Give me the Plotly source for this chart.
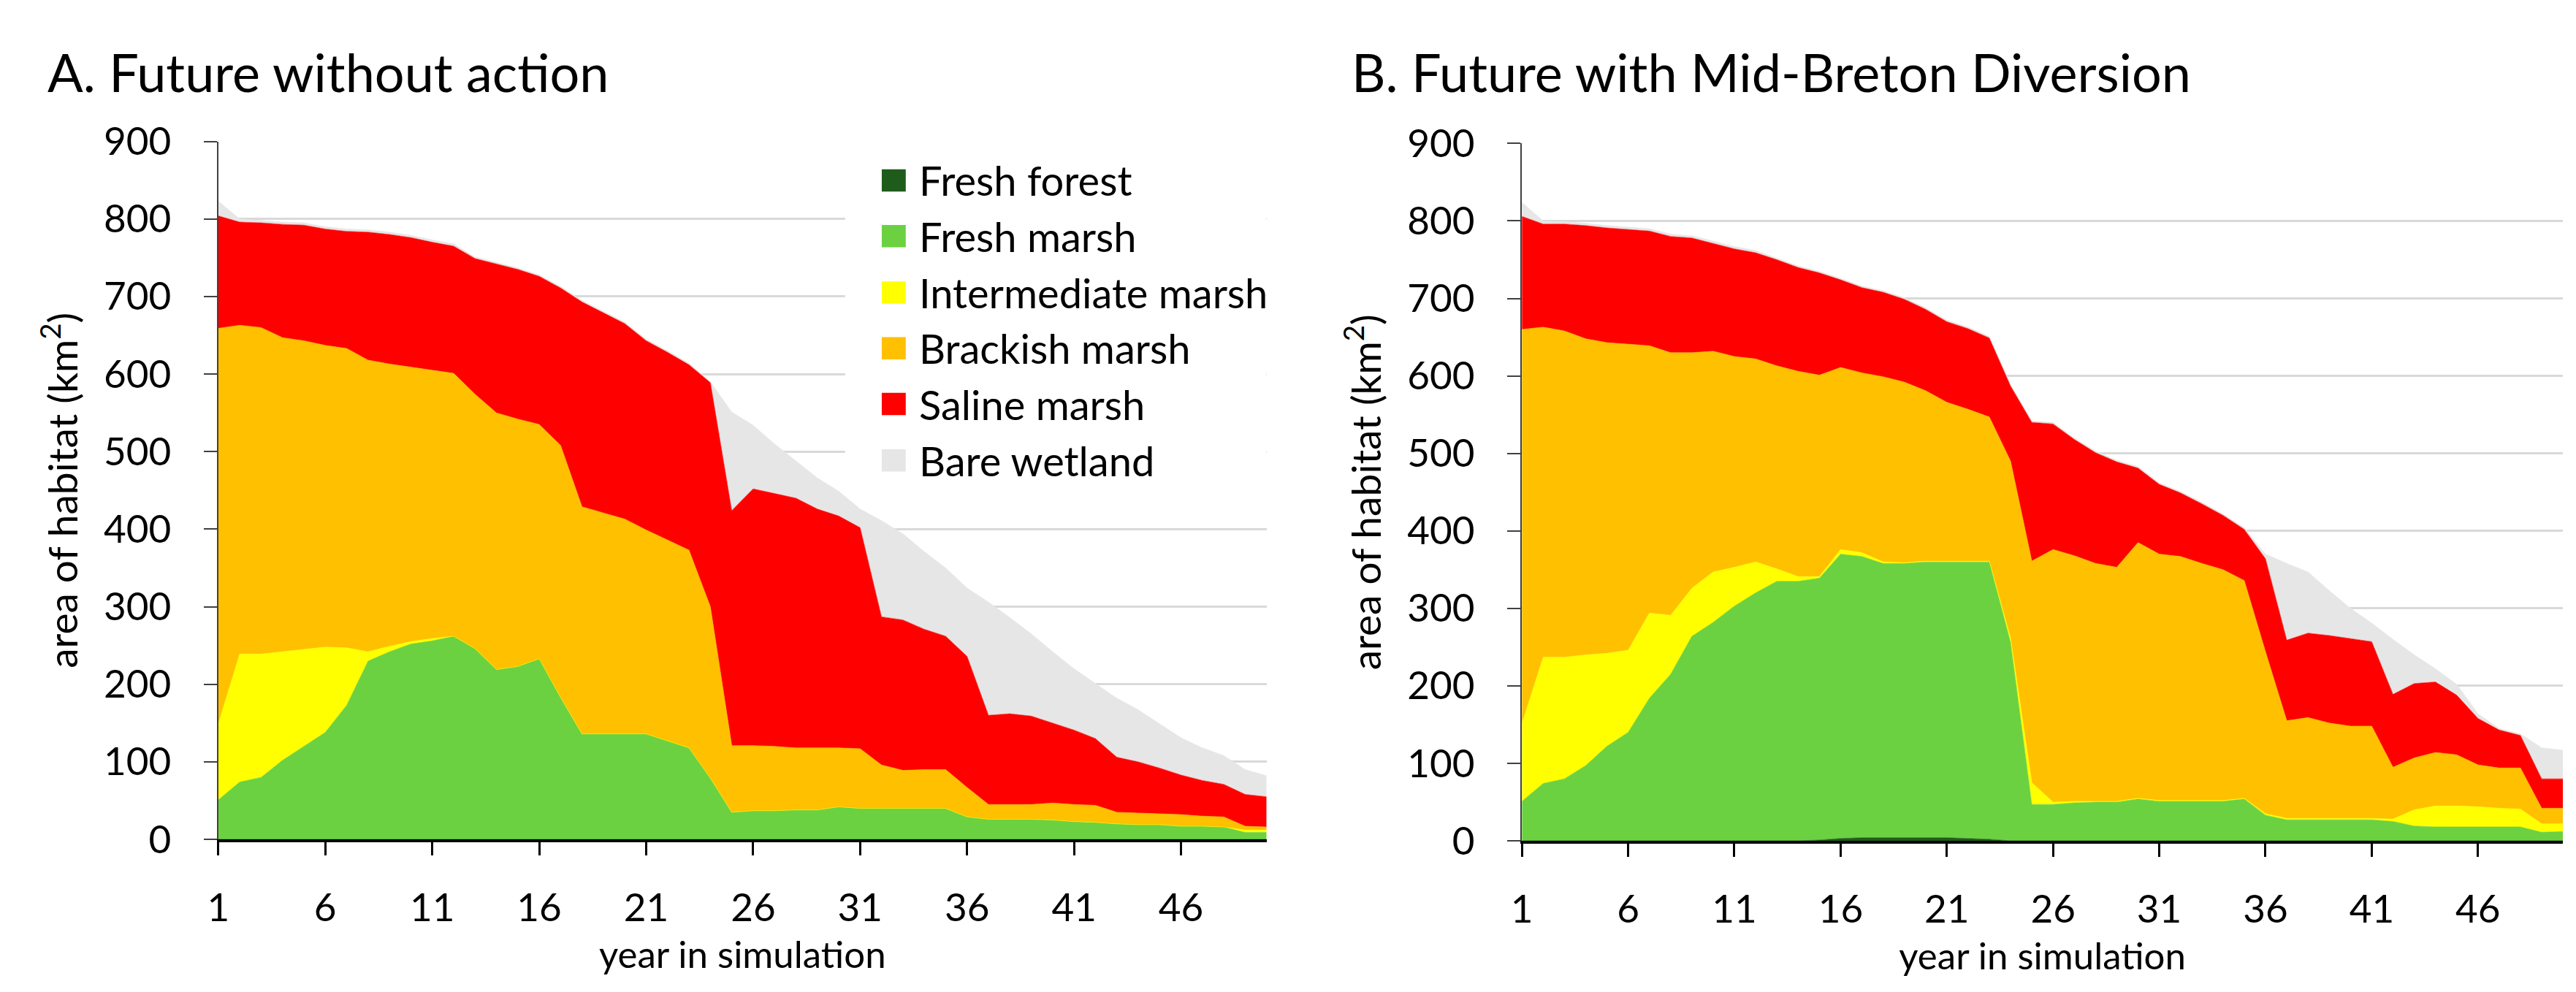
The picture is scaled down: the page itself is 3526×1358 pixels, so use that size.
import plotly.graph_objects as go

W, H = 3526, 1358

years = list(range(1, 51))
x_tick_vals = [1, 6, 11, 16, 21, 26, 31, 36, 41, 46]
y_tick_vals = [0, 100, 200, 300, 400, 500, 600, 700, 800, 900]

habitat_names = ["Fresh forest", "Fresh marsh", "Intermediate marsh",
                 "Brackish marsh", "Saline marsh", "Bare wetland"]
habitat_colors = ["#1F5C1C", "#6CD141", "#FFFF00", "#FFC000", "#FF0000", "#E6E6E6"]

# ---------------- Panel A: Future without action (km2 per habitat, years 1..50)
a_fresh_forest = [0] * 50
a_fresh_marsh = [51, 74, 80, 102, 120, 138, 173, 230, 242, 252,
                 256, 262, 246, 219, 223, 233, 183, 136, 136, 136,
                 136, 127, 118, 79, 35, 37, 37, 38, 38, 42,
                 40, 40, 40, 40, 40, 29, 26, 26, 26, 25,
                 23, 22, 20, 19, 19, 17, 17, 16, 9, 9]
a_intermediate = [98, 165, 159, 140, 125, 110, 74, 12, 7, 3,
                  3, 0, 0, 0, 0, 0, 0, 0, 0, 0,
                  0, 0, 0, 0, 0, 0, 0, 0, 0, 0,
                  0, 0, 0, 0, 0, 0, 0, 0, 0, 0,
                  0, 0, 0, 0, 0, 0, 0, 0, 3, 3]
a_brackish = [510, 424, 421, 405, 398, 389, 386, 376, 364, 354,
              346, 339, 328, 331, 319, 302, 325, 293, 285, 277,
              263, 259, 255, 221, 86, 84, 83, 80, 80, 76,
              77, 56, 49, 50, 50, 38, 19, 19, 19, 22,
              22, 22, 15, 15, 14, 15, 13, 13, 5, 4]
a_saline = [145, 133, 135, 146, 149, 150, 151, 165, 167, 167,
            165, 164, 175, 192, 193, 191, 203, 264, 258, 252,
            244, 242, 239, 289, 303, 331, 326, 322, 308, 299,
            285, 191, 194, 181, 172, 169, 115, 117, 114, 103,
            96, 86, 71, 66, 59, 51, 46, 42, 41, 39]
a_bare = [19, 4, 3, 3, 3, 3, 3, 3, 3, 3,
          3, 3, 2, 2, 2, 2, 2, 2, 2, 2,
          2, 2, 2, 1, 127, 82, 64, 48, 40, 32,
          24, 124, 111, 100, 88, 88, 146, 124, 106, 92,
          79, 71, 76, 67, 57, 48, 42, 37, 32, 27]

# ---------------- Panel B: Future with Mid-Breton Diversion
b_fresh_forest = [0, 0, 0, 0, 0, 0, 0, 0, 0, 0,
                  0, 0, 0, 0, 1, 3, 4, 4, 4, 4,
                  4, 3, 2, 0, 0, 0, 0, 0, 0, 0,
                  0, 0, 0, 0, 0, 0, 0, 0, 0, 0,
                  0, 0, 0, 0, 0, 0, 0, 0, 0, 0]
b_fresh_marsh = [51, 74, 80, 97, 122, 140, 184, 215, 264, 282,
                 303, 320, 335, 335, 338, 367, 363, 354, 354, 356,
                 356, 357, 358, 256, 47, 47, 49, 50, 50, 54,
                 51, 51, 51, 51, 54, 33, 27, 27, 27, 27,
                 27, 25, 19, 18, 18, 18, 18, 18, 11, 12]
b_intermediate = [100, 163, 157, 143, 120, 106, 110, 76, 62, 65,
                  50, 40, 16, 6, 2, 6, 5, 2, 1, 1,
                  1, 1, 1, 6, 28, 3, 2, 1, 1, 1,
                  1, 1, 1, 1, 1, 2, 2, 2, 2, 2,
                  2, 3, 21, 27, 27, 26, 24, 23, 11, 10]
b_brackish = [509, 426, 421, 408, 401, 395, 345, 339, 304, 285,
              272, 262, 262, 265, 260, 235, 232, 239, 233, 220,
              205, 196, 186, 228, 286, 326, 317, 307, 302, 330,
              318, 315, 306, 298, 281, 209, 126, 130, 123, 119,
              119, 67, 67, 69, 66, 54, 52, 53, 20, 20]
b_saline = [146, 133, 138, 146, 148, 148, 148, 150, 148, 139,
            139, 137, 137, 134, 132, 113, 110, 109, 107, 105,
            104, 104, 102, 97, 179, 162, 150, 143, 136, 96,
            90, 82, 77, 70, 66, 120, 104, 109, 113, 113,
            109, 94, 96, 91, 77, 60, 49, 42, 38, 38]
b_bare = [18, 4, 3, 3, 3, 3, 3, 3, 3, 3,
          3, 3, 2, 2, 2, 2, 2, 2, 2, 2,
          2, 2, 2, 2, 2, 2, 2, 2, 2, 2,
          2, 2, 2, 2, 2, 6, 99, 79, 58, 39,
          24, 71, 37, 17, 14, 6, 2, 2, 40, 37]

panel_a = [a_fresh_forest, a_fresh_marsh, a_intermediate, a_brackish, a_saline, a_bare]
panel_b = [b_fresh_forest, b_fresh_marsh, b_intermediate, b_brackish, b_saline, b_bare]

panel_titles = ["A. Future without action", "B. Future with Mid-Breton Diversion"]
x_title = "year in simulation"
y_title = "area of habitat (km<sup>2</sup>)"

FONT = "Lato"


def px(v):
    return v / W


def py(v):
    return 1 - v / H


fig = go.Figure()

for panel, (xa, ya, grp) in zip([panel_a, panel_b], [("x", "y", "A"), ("x2", "y2", "B")]):
    for name, color, vals in zip(habitat_names, habitat_colors, panel):
        fig.add_trace(go.Scatter(
            x=years, y=vals, name=name, xaxis=xa, yaxis=ya,
            stackgroup=grp, mode="lines",
            line=dict(width=0.6, color=color),
            fillcolor=color, showlegend=False,
            hovertemplate=name + ": %{y}<extra></extra>",
        ))

common_x = dict(
    range=[1, 50], tickvals=x_tick_vals, ticks="outside", ticklen=18,
    tickwidth=3, tickcolor="#000000", showline=True, linecolor="#000000",
    linewidth=4, showgrid=False, zeroline=False,
    tickfont=dict(family=FONT, size=53, color="#000000"),
    ticklabelstandoff=26,
    title=dict(text=x_title, font=dict(family=FONT, size=51, color="#000000"), standoff=20),
)
common_y = dict(
    range=[0, 900], tickvals=y_tick_vals, ticks="outside", ticklen=18,
    tickwidth=2, tickcolor="#404040", showline=True, linecolor="#404040",
    linewidth=2, showgrid=True, gridcolor="#D9D9D9", gridwidth=2.5,
    zeroline=False,
    tickfont=dict(family=FONT, size=53, color="#000000"),
    ticklabelstandoff=34,
    title=dict(text=y_title, font=dict(family=FONT, size=55, color="#000000"), standoff=18),
)

fig.update_layout(
    width=W, height=H,
    margin=dict(l=0, r=0, t=0, b=0),
    paper_bgcolor="#FFFFFF", plot_bgcolor="#FFFFFF",
    font=dict(family=FONT, color="#000000"),
    xaxis=dict(domain=[px(277), px(1718)], anchor="y", **common_x),
    yaxis=dict(domain=[py(1162), py(160)], anchor="x", **common_y),
    xaxis2=dict(domain=[px(2069), px(3500)], anchor="y2", **common_x),
    yaxis2=dict(domain=[py(1164), py(163)], anchor="x2", **common_y),
    showlegend=False,
)

annotations = []
for title, x0 in zip(panel_titles, [40, 1833]):
    annotations.append(dict(
        text=title, x=px(x0), y=py(60), xref="paper", yref="paper",
        xanchor="left", yanchor="middle", showarrow=False,
        font=dict(family=FONT, size=72, color="#000000"),
    ))

# Legend (drawn inside panel A on a white backdrop that hides the gridlines)
shapes = [dict(type="rect", xref="x", yref="y", x0=30.3, x1=50, y0=460, y1=885,
               fillcolor="#FFFFFF", line=dict(width=0), layer="between")]
row_centers = [216, 296, 377, 457, 537, 618]
for name, color, cy in zip(habitat_names, habitat_colors, row_centers):
    shapes.append(dict(type="rect", xref="paper", yref="paper",
                       x0=px(1189), x1=px(1222), y0=py(cy + 16), y1=py(cy - 16),
                       fillcolor=color, line=dict(width=0), layer="above"))
    annotations.append(dict(
        text=name, x=px(1238), y=py(cy), xref="paper", yref="paper",
        xanchor="left", yanchor="middle", showarrow=False,
        font=dict(family=FONT, size=56, color="#000000"),
    ))

fig.update_layout(annotations=annotations, shapes=shapes)

fig.write_html("out.html")
